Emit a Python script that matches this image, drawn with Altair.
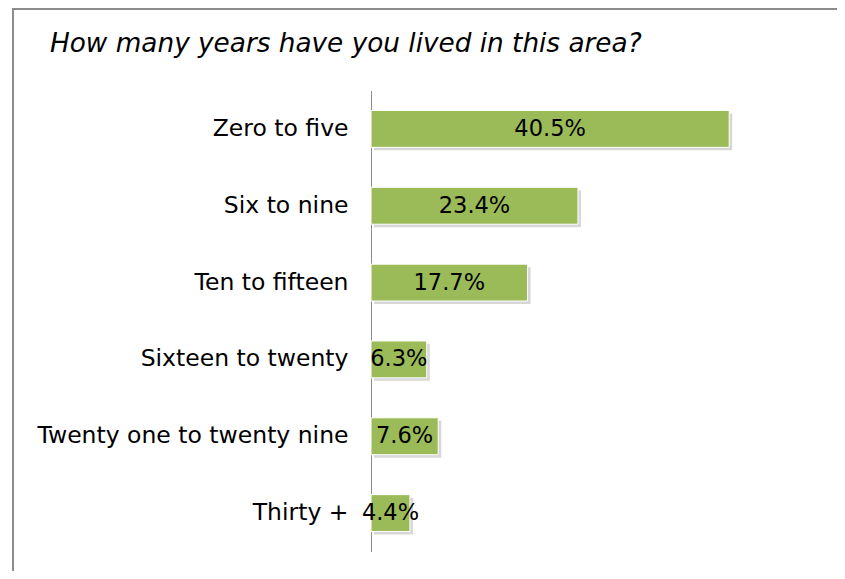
import altair as alt
import pandas as pd

categories = ["Zero to five", "Six to nine", "Ten to fifteen", "Sixteen to twenty",
              "Twenty one to twenty nine", "Thirty +"]
values = [40.5, 23.4, 17.7, 6.3, 7.6, 4.4]
value_labels = ["40.5%", "23.4%", "17.7%", "6.3%", "7.6%", "4.4%"]
title_text = "How many years have you lived in this area?"

df = pd.DataFrame({"cat": categories, "val": values, "lab": value_labels})
df["half"] = df["val"] / 2

W, H = 398, 461
FONT = "DejaVu Sans"

y_enc = alt.Y("cat:N", sort=None, title=None,
              scale=alt.Scale(paddingInner=0.52, paddingOuter=0.26),
              axis=alt.Axis(ticks=False, domain=True, domainColor="#8c8c8c", domainWidth=1,
                            labelFont=FONT, labelFontSize=23.5, labelColor="black",
                            labelPadding=23, labelLimit=450, grid=False))
x_scale = alt.Scale(domain=[0, 45], nice=False)

base = alt.Chart(df)

shadow = base.mark_bar(color="#b0b0b0", opacity=0.5, xOffset=3, yOffset=3).encode(
    x=alt.X("val:Q", scale=x_scale, axis=None), y=y_enc)

bars = base.mark_bar(color="#9BBB59", stroke="white", strokeWidth=1).encode(
    x=alt.X("val:Q", scale=x_scale, axis=None), y=y_enc)

labels = base.mark_text(font=FONT, fontSize=22.5, color="black", align="center", baseline="middle").encode(
    x=alt.X("half:Q", scale=x_scale, axis=None), y=y_enc, text="lab:N")

one = pd.DataFrame({"t": [title_text]})

frame = alt.Chart(one).mark_rect(
    fill=None, stroke="#8c8c8c", strokeWidth=2).encode(
    x=alt.value(-358), y=alt.value(-81.5), x2=alt.value(W + 200), y2=alt.value(H + 200))

title = alt.Chart(one).mark_text(font=FONT, fontSize=26.3, fontStyle="italic", color="black",
                                 align="left", baseline="alphabetic").encode(
    x=alt.value(-321), y=alt.value(-38.5), text="t:N")

chart = alt.layer(frame, title, shadow, bars, labels).properties(
    width=W, height=H,
    autosize=alt.AutoSizeParams(type="none"),
    padding={"left": 363, "top": 82.5, "right": 68, "bottom": 19.5},
).configure_view(stroke=None)

chart.save("out.html", embed_options={"renderer": "svg", "actions": False})
